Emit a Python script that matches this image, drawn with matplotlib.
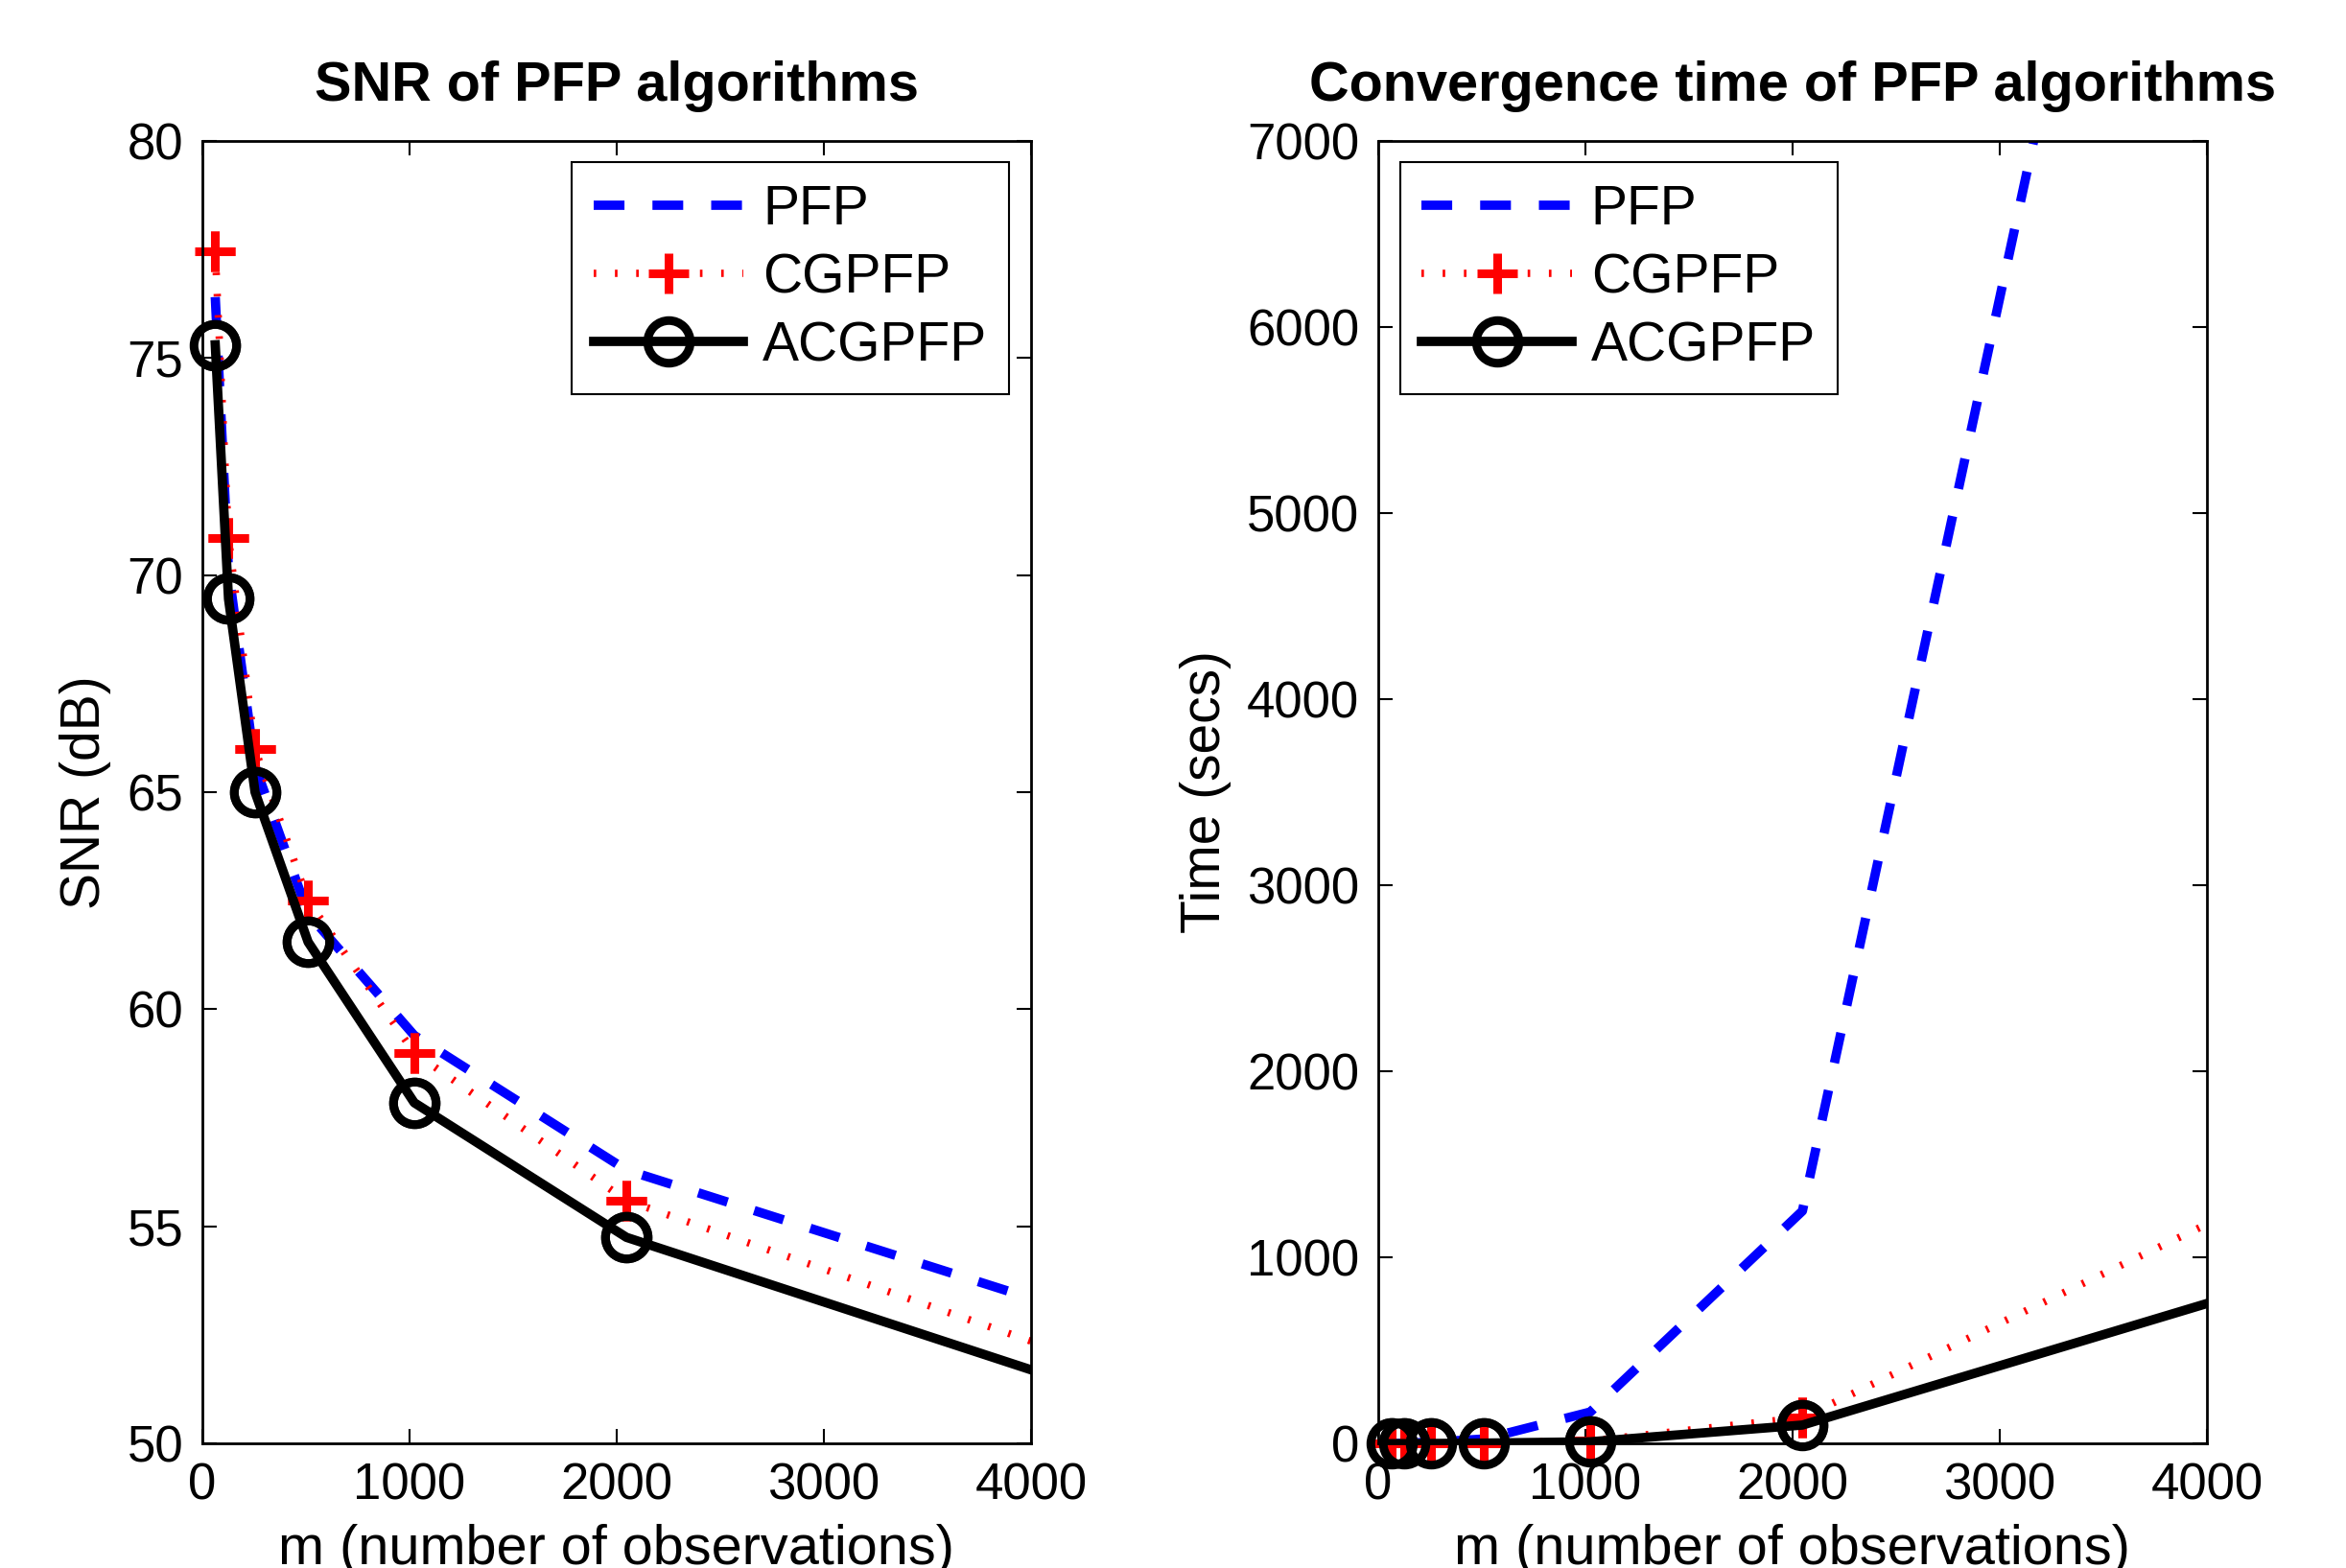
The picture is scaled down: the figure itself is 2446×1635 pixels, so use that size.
import numpy as np
import matplotlib
matplotlib.use('Agg')
from matplotlib import pyplot as plt

plt.rcParams['font.family'] = ['Liberation Sans', 'DejaVu Sans']

m = np.array([64, 128, 256, 512, 1024, 2048, 4096])

# SNR (dB)
snr_pfp = [76.4, 70.1, 65.6, 62.2, 59.4, 56.3, 53.2]
snr_cgpfp = [77.45, 70.85, 66.0, 62.5, 59.0, 55.6, 52.2]
snr_acgpfp = [75.3, 69.45, 65.0, 61.55, 57.85, 54.75, 51.55]

# convergence time (secs)
t_pfp = [0.5, 2, 8, 25, 170, 1250, 11800]
t_cgpfp = [0.1, 0.3, 1, 4, 15, 140, 1230]
t_acgpfp = [0.1, 0.3, 1, 3, 10, 100, 785]

names = ['PFP', 'CGPFP', 'ACGPFP']
fs = 38

fig = plt.figure(figsize=(24.46, 16.35), dpi=100)
ax1 = fig.add_axes([0.0861, 0.0793, 0.3534, 0.8310])
ax2 = fig.add_axes([0.5874, 0.0793, 0.3533, 0.8310])


def draw(ax, ys):
    # matlab style: '--b', ':r+', '-ko'
    st = [dict(color='b', lw=7, dashes=(3.3, 3.0)),
          dict(color='r', lw=5.5, dashes=(0.35, 2.55), dash_capstyle='butt',
               marker='+', ms=30, mew=6.5),
          dict(color='k', lw=7, ls='-', marker='o', ms=32, mew=6.5, mfc='none')]
    inside = m <= 4000
    idx = list(np.nonzero(inside)[0])
    for y, name, s in zip(ys, names, st):
        if 'marker' in s:
            ax.plot(m, y, label=name, markevery=idx, **s)
            ax.plot(m[inside], np.array(y)[inside], ls='none', marker=s['marker'],
                    ms=s['ms'], mew=s['mew'], color=s['color'],
                    mfc=s.get('mfc', s['color']), clip_on=False)
        else:
            ax.plot(m, y, label=name, **s)
    ax.set_xlim(0, 4000)
    ax.set_xticks(np.arange(0, 4001, 1000))
    ax.tick_params(direction='in', length=11, width=1.5, top=True, right=True,
                   labelsize=fs, pad=14)
    for sp in ax.spines.values():
        sp.set_linewidth(2)
    ax.set_xlabel('m (number of observations)', fontsize=41.5, labelpad=10)


def legend(ax, loc):
    lg = ax.legend(loc=loc, fontsize=41, handlelength=2.75, fancybox=False,
                   edgecolor='k', framealpha=1, borderaxespad=0.4, labelspacing=0.3,
                   handletextpad=0.35, borderpad=0.4)
    lg.get_frame().set_linewidth(1.5)


draw(ax1, [snr_pfp, snr_cgpfp, snr_acgpfp])
ax1.set_ylim(50, 80)
ax1.set_yticks(np.arange(50, 81, 5))
ax1.set_ylabel('SNR (dB)', fontsize=41, labelpad=12)
ax1.set_title('SNR of PFP algorithms', fontsize=41.5, fontweight='bold', pad=30)
legend(ax1, 'upper right')

draw(ax2, [t_pfp, t_cgpfp, t_acgpfp])
ax2.set_ylim(0, 7000)
ax2.set_yticks(np.arange(0, 7001, 1000))
ax2.set_ylabel('Time (secs)', fontsize=41, labelpad=12)
ax2.set_title('Convergence time of PFP algorithms', fontsize=41.5, fontweight='bold', pad=30)
legend(ax2, 'upper left')

plt.savefig('out.png', dpi=100)
